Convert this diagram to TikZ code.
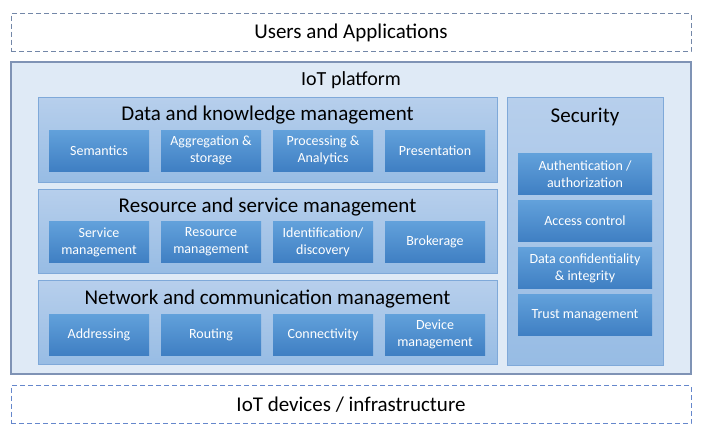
\documentclass[tikz,border=0pt]{standalone}
\usepackage{fontspec}
\setmainfont{Carlito}
\definecolor{layerTop}{HTML}{7387A8}
\definecolor{layerBot}{HTML}{6587CC}
\definecolor{pfFill}{HTML}{DFEAF6}
\definecolor{pfLine}{HTML}{7F93B5}
\definecolor{panTop}{HTML}{B7CFEC}
\definecolor{panBot}{HTML}{97BCE4}
\definecolor{panLine}{HTML}{7FA9D9}
\definecolor{fnTop}{HTML}{62A1DB}
\definecolor{fnBot}{HTML}{3F7FC3}
\tikzset{
  layer/.style={draw=layerTop,dashed,dash pattern=on 5pt off 3pt,line width=1pt,
    minimum width=680pt,minimum height=38pt,inner sep=0pt,font=\fontsize{21}{24}\selectfont},
  platform/.style={draw=pfLine,fill=pfFill,line width=1.2pt,inner sep=0pt,
    minimum width=680pt,minimum height=312pt},
  panel/.style={draw=panLine,top color=panTop,bottom color=panBot,line width=0.8pt,inner sep=0pt},
  title/.style={font=\fontsize{21}{24}\selectfont,inner sep=0pt},
  fn/.style={top color=fnTop,bottom color=fnBot,text=white,align=center,inner sep=0pt,
    minimum width=100pt,minimum height=41pt,font=\fontsize{14}{17}\selectfont},
  secfn/.style={fn,minimum width=134pt}
}
\begin{document}
\begin{tikzpicture}[x=1pt,y=-1pt]
\useasboundingbox (0,0) rectangle (702,440);
% outer layers
\node[layer] (users) at (351,32.5) {Users and Applications};
\node[layer,draw=layerBot] (devices) at (351,404.5) {IoT devices / infrastructure};
\node[platform] (iot) at (351,218) {};
\node[title,font=\fontsize{20}{23}\selectfont] (iotT) at (351,80) {IoT platform};
% management panels
\node[panel,minimum width=459pt,minimum height=85pt] (data) at (267.5,139.5) {};
\node[panel,minimum width=459pt,minimum height=84pt] (res) at (267.5,231) {};
\node[panel,minimum width=459pt,minimum height=84pt] (net) at (267.5,322.5) {};
\node[title] (dataT) at (267.5,115.5) {Data and knowledge management};
\node[title] (resT) at (267.5,207.5) {Resource and service management};
\node[title] (netT) at (267.5,299) {Network and communication management};
\foreach \t [count=\i] in {Semantics, Aggregation \&\\storage, Processing \&\\Analytics, Presentation}
{\node[fn] (data\i) at (99+112*\i-112,150.5) {\t};}
\foreach \t [count=\i] in {Service\\management, Resource\\management, Identification/\\discovery, Brokerage}
{\node[fn] (res\i) at (99+112*\i-112,242) {\t};}
\foreach \t [count=\i] in {Addressing, Routing, Connectivity, Device\\management}
{\node[fn] (net\i) at (99+112*\i-112,334.5) {\t};}
% security
\node[panel,minimum width=156pt,minimum height=268pt] (sec) at (585,231) {};
\node[title] (secT) at (585,116.5) {Security};
\foreach \t [count=\i] in {Authentication /\\authorization, Access control, Data confidentiality\\\& integrity, Trust management}
{\node[secfn] (sec\i) at (585,174+47*\i-47) {\t};}
\end{tikzpicture}
\end{document}
